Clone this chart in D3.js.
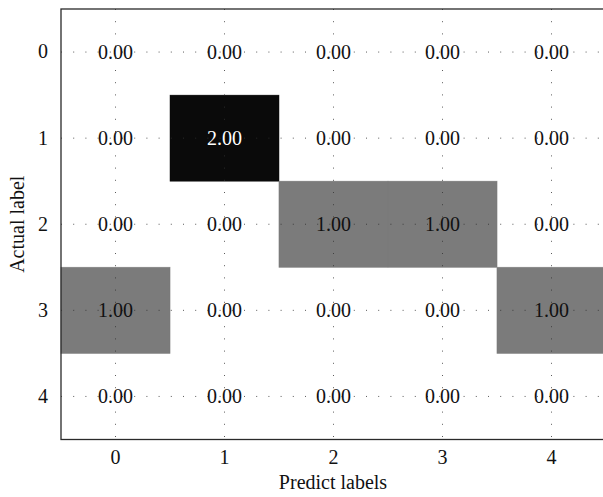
<!DOCTYPE html>
<html>
<head>
<meta charset="utf-8">
<script src="https://cdn.jsdelivr.net/npm/d3@7"></script>
<style>
  body { margin: 0; background: #fff; }
  text { font-family: "Liberation Serif", "DejaVu Serif", serif; }
</style>
</head>
<body>
<svg id="chart"></svg>
<script>
// confusion matrix: rows = actual label, cols = predicted label
const labels = ["0", "1", "2", "3", "4"];
const row0 = [0, 0, 0, 0, 0];
const row1 = [0, 2, 0, 0, 0];
const row2 = [0, 0, 1, 1, 0];
const row3 = [1, 0, 0, 0, 1];
const row4 = [0, 0, 0, 0, 0];
const matrix = [row0, row1, row2, row3, row4];

const margin = {top: 9, left: 61};
const width = 545, height = 430.5;
const fs = 20;

const svg = d3.select("#chart").attr("width", 603).attr("height", 497);
const g = svg.append("g").attr("transform", `translate(${margin.left},${margin.top})`);

const x = d3.scaleBand().domain(labels).range([0, width]);
const y = d3.scaleBand().domain(labels).range([0, height]);
const color = d3.scaleLinear().domain([0, 1, 2]).range(["#ffffff", "#7b7b7b", "#0a0a0a"]);

const cells = [];
matrix.forEach((r, i) => r.forEach((v, j) => cells.push({row: labels[i], col: labels[j], v})));

// light outlines around the non-zero blocks
g.selectAll("rect.edge")
  .data(cells.filter(d => d.v > 0))
  .enter().append("rect")
  .attr("class", "edge")
  .attr("x", d => x(d.col) - 0.5)
  .attr("y", d => y(d.row) - 0.5)
  .attr("width", x.bandwidth() + 1)
  .attr("height", y.bandwidth() + 1)
  .attr("fill", "#cfcfcf");

g.selectAll("rect.cell")
  .data(cells.filter(d => d.v > 0))
  .enter().append("rect")
  .attr("class", "cell")
  .attr("x", d => x(d.col))
  .attr("y", d => y(d.row))
  .attr("width", x.bandwidth())
  .attr("height", y.bandwidth())
  .attr("fill", d => color(d.v))
  .attr("stroke", d => color(d.v))
  .attr("stroke-width", 0.3);

// dotted grid through the cell centres
const grid = g.append("g");
labels.forEach(l => {
  grid.append("line")
    .attr("x1", x(l) + x.bandwidth() / 2).attr("x2", x(l) + x.bandwidth() / 2)
    .attr("y1", 0).attr("y2", height);
  grid.append("line")
    .attr("y1", y(l) + y.bandwidth() / 2).attr("y2", y(l) + y.bandwidth() / 2)
    .attr("x1", 0).attr("x2", width);
});
grid.selectAll("line")
  .attr("stroke", "#333")
  .attr("stroke-width", 1)
  .attr("stroke-dasharray", "1,11.2")
  .attr("opacity", 0.8);

// cell values
g.selectAll("text.val")
  .data(cells)
  .enter().append("text")
  .attr("class", "val")
  .attr("x", d => x(d.col) + x.bandwidth() / 2)
  .attr("y", d => y(d.row) + y.bandwidth() / 2)
  .attr("dy", "0.35em")
  .attr("text-anchor", "middle")
  .attr("font-size", fs)
  .attr("fill", d => d.v > 1.5 ? "#fff" : "#111")
  .text(d => d.v.toFixed(2));

// frame
g.append("rect")
  .attr("width", width).attr("height", height)
  .attr("fill", "none").attr("stroke", "#2a2a2a").attr("stroke-width", 1.3);

// axes (no tick marks)
const xAxis = g.append("g").attr("transform", `translate(0,${height})`)
  .call(d3.axisBottom(x).tickSize(0).tickPadding(10));
const yAxis = g.append("g")
  .call(d3.axisLeft(y).tickSize(0).tickPadding(13));
[xAxis, yAxis].forEach(a => {
  a.select(".domain").remove();
  a.selectAll("text").attr("font-size", fs).attr("fill", "#111")
    .attr("font-family", "Liberation Serif, serif");
});

svg.append("text")
  .attr("x", 333)
  .attr("y", 489)
  .attr("text-anchor", "middle")
  .attr("font-size", fs).attr("fill", "#111")
  .text("Predict labels");

svg.append("text")
  .attr("transform", `translate(24,${margin.top + height / 2}) rotate(-90)`)
  .attr("text-anchor", "middle")
  .attr("font-size", fs).attr("fill", "#111")
  .text("Actual label");
</script>
</body>
</html>
